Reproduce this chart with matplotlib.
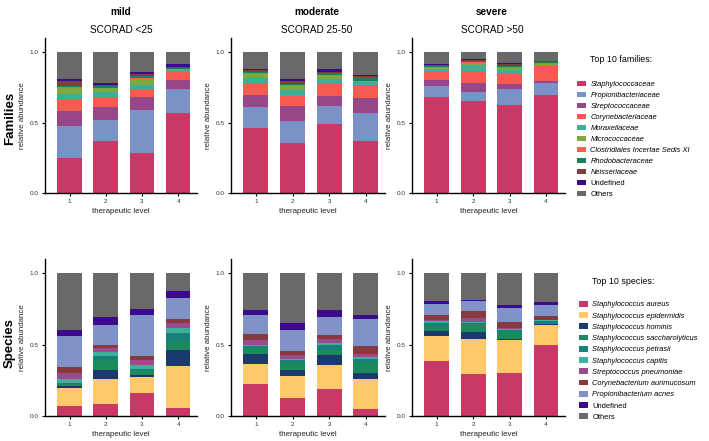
import numpy as np
import matplotlib.pyplot as plt
from matplotlib.patches import Patch

plt.rcParams["font.family"] = ["Liberation Sans", "DejaVu Sans"]

levels = [1, 2, 3, 4]
severities = ["mild", "moderate", "severe"]
scorad = ["SCORAD <25", "SCORAD 25-50", "SCORAD >50"]

family_names = ["Staphylococcaceae", "Propionibacteriaceae", "Streptococcaceae",
                "Corynebacteriaceae", "Moraxellaceae", "Micrococcaceae",
                "Clostridiales Incertae Sedis XI", "Rhodobacteraceae",
                "Neisseriaceae", "Undefined", "Others"]
family_colors = ["#C83A63", "#7B92C6", "#974787", "#F65B4F", "#3DAF98", "#7DA93E",
                 "#F4604F", "#1B7F5E", "#843B3C", "#3C0B8C", "#696969"]

species_names = ["Staphylococcus aureus", "Staphylococcus epidermidis",
                 "Staphylococcus hominis", "Staphylococcus saccharolyticus",
                 "Staphylococcus petrasii", "Staphylococcus capitis",
                 "Streptococcus pneumoniae", "Corynebacterium aurimucosum",
                 "Propionibacterium acnes", "Undefined", "Others"]
species_colors = ["#C83A63", "#FDC96A", "#1A3A6E", "#1D8A5E", "#17807A", "#3DB19C",
                  "#984C8E", "#873A3E", "#7F93C8", "#3C0B8C", "#696969"]

# rows follow family_names, columns are therapeutic levels 1-4
fam_mild = [
    [0.250, 0.372, 0.282, 0.571],
    [0.226, 0.145, 0.306, 0.164],
    [0.107, 0.090, 0.092, 0.068],
    [0.085, 0.071, 0.057, 0.057],
    [0.038, 0.042, 0.028, 0.010],
    [0.038, 0.024, 0.045, 0.008],
    [0.005, 0.004, 0.005, 0.004],
    [0.012, 0.010, 0.012, 0.008],
    [0.035, 0.012, 0.020, 0.004],
    [0.014, 0.012, 0.010, 0.025],
    [0.190, 0.218, 0.143, 0.081],
]
fam_moderate = [
    [0.464, 0.353, 0.493, 0.372],
    [0.143, 0.157, 0.125, 0.194],
    [0.090, 0.110, 0.069, 0.109],
    [0.087, 0.070, 0.086, 0.088],
    [0.029, 0.040, 0.037, 0.022],
    [0.033, 0.030, 0.024, 0.008],
    [0.005, 0.004, 0.005, 0.003],
    [0.010, 0.013, 0.010, 0.030],
    [0.012, 0.020, 0.012, 0.006],
    [0.008, 0.011, 0.018, 0.006],
    [0.119, 0.192, 0.121, 0.162],
]
fam_severe = [
    [0.678, 0.652, 0.628, 0.695],
    [0.080, 0.066, 0.109, 0.085],
    [0.041, 0.062, 0.040, 0.017],
    [0.061, 0.083, 0.069, 0.103],
    [0.014, 0.047, 0.028, 0.008],
    [0.016, 0.012, 0.016, 0.010],
    [0.004, 0.006, 0.006, 0.004],
    [0.008, 0.006, 0.008, 0.006],
    [0.008, 0.008, 0.010, 0.006],
    [0.006, 0.006, 0.006, 0.006],
    [0.084, 0.052, 0.080, 0.060],
]

# rows follow species_names
sp_mild = [
    [0.068, 0.083, 0.158, 0.059],
    [0.125, 0.174, 0.118, 0.292],
    [0.017, 0.064, 0.012, 0.114],
    [0.013, 0.073, 0.032, 0.060],
    [0.010, 0.028, 0.010, 0.058],
    [0.024, 0.024, 0.024, 0.033],
    [0.043, 0.030, 0.040, 0.037],
    [0.042, 0.024, 0.028, 0.029],
    [0.217, 0.137, 0.286, 0.143],
    [0.047, 0.059, 0.044, 0.048],
    [0.394, 0.304, 0.248, 0.127],
]
sp_moderate = [
    [0.224, 0.123, 0.186, 0.047],
    [0.139, 0.158, 0.172, 0.210],
    [0.073, 0.042, 0.071, 0.043],
    [0.038, 0.047, 0.036, 0.070],
    [0.014, 0.019, 0.035, 0.029],
    [0.010, 0.011, 0.012, 0.014],
    [0.037, 0.029, 0.028, 0.019],
    [0.040, 0.024, 0.031, 0.056],
    [0.133, 0.153, 0.125, 0.189],
    [0.033, 0.043, 0.045, 0.033],
    [0.259, 0.351, 0.259, 0.290],
]
sp_severe = [
    [0.386, 0.297, 0.304, 0.500],
    [0.175, 0.243, 0.231, 0.136],
    [0.032, 0.046, 0.007, 0.007],
    [0.040, 0.061, 0.047, 0.009],
    [0.017, 0.006, 0.011, 0.013],
    [0.016, 0.006, 0.007, 0.006],
    [0.009, 0.028, 0.012, 0.004],
    [0.035, 0.047, 0.038, 0.025],
    [0.077, 0.070, 0.100, 0.080],
    [0.017, 0.011, 0.019, 0.020],
    [0.196, 0.185, 0.224, 0.200],
]

W, H = 709, 441
fig = plt.figure(figsize=(W / 100, H / 100), dpi=100)


def px_axes(left, right, top, bottom):
    # axes rectangle given in pixels from the top-left corner
    return fig.add_axes([left / W, 1 - bottom / H, (right - left) / W, (bottom - top) / H])


def draw_panel(ax, data, colors):
    bottom = np.zeros(len(levels))
    for vals, col in zip(data, colors):
        ax.bar(levels, vals, width=0.68, bottom=bottom, color=col, linewidth=0)
        bottom += np.array(vals)
    ax.set_xlim(0.32, 4.52)
    ax.set_ylim(0, 1.1)
    ax.set_xticks(levels)
    ax.set_yticks([0, 0.5, 1.0])
    ax.set_yticklabels(["0.0", "0.5", "1.0"])
    for side in ["top", "right"]:
        ax.spines[side].set_visible(False)
    for side in ["left", "bottom"]:
        ax.spines[side].set_linewidth(1.0)
    ax.tick_params(axis="both", labelsize=4.6, length=2.5, width=0.8, pad=2,
                   labelcolor="#333333")
    ax.set_xlabel("therapeutic level", fontsize=5.7, labelpad=2.5, color="#222222")
    ax.set_ylabel("relative abundance", fontsize=5.7, labelpad=3, color="#222222")


lefts = [45, 231, 412]
rights = [197, 385, 565]
top_panels = [fam_mild, fam_moderate, fam_severe]
bottom_panels = [sp_mild, sp_moderate, sp_severe]

for i in range(3):
    ax = px_axes(lefts[i], rights[i], 38, 193)
    draw_panel(ax, top_panels[i], family_colors)
    ax = px_axes(lefts[i], rights[i], 259, 416)
    draw_panel(ax, bottom_panels[i], species_colors)

# column and row titles
title_x = [121, 317, 492]
for i in range(3):
    fig.text(title_x[i] / W, 1 - 12 / H, severities[i], ha="center", va="center",
             fontsize=7.2, fontweight="bold")
    fig.text(title_x[i] / W, 1 - 30 / H, scorad[i], ha="center", va="center",
             fontsize=7.2)
fig.text(10 / W, 1 - 118 / H, "Families", rotation=90, ha="center", va="center",
         fontsize=9.5, fontweight="bold")
fig.text(10 / W, 1 - 343 / H, "Species", rotation=90, ha="center", va="center",
         fontsize=9.5, fontweight="bold")


def add_legend(names, colors, title, title_y, x_left, top_y, spacing):
    fig.text((x_left + 13) / W, 1 - title_y / H, title, ha="left", va="center",
             fontsize=6.4)
    handles = [Patch(facecolor=c, edgecolor="none") for c in colors]
    leg = fig.legend(handles, names, loc="upper left",
                     bbox_to_anchor=(x_left / W, 1 - top_y / H),
                     frameon=False, fontsize=5.4, borderpad=0, borderaxespad=0,
                     handlelength=1.25, handleheight=0.8, handletextpad=0.55,
                     labelspacing=spacing)
    for t in leg.get_texts():
        if t.get_text() not in ("Undefined", "Others"):
            t.set_fontstyle("italic")


add_legend(family_names, family_colors, "Top 10 families:", 60, 577, 80.5, 0.47)
add_legend(species_names, species_colors, "Top 10 species:", 282, 579, 301, 0.5)

fig.savefig("out.png", dpi=100)
